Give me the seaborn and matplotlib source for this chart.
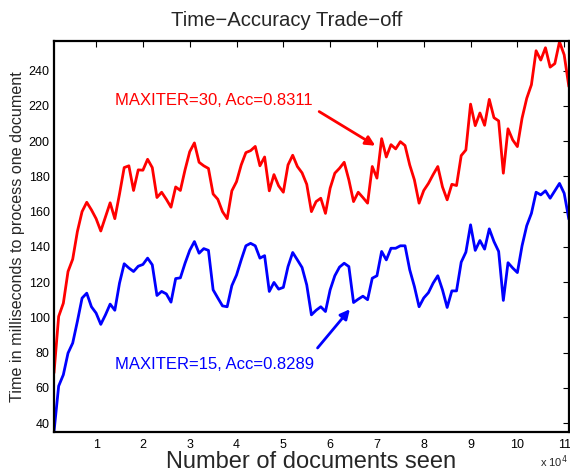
import numpy as np
import pandas as pd
import matplotlib
matplotlib.use("Agg")
import matplotlib.pyplot as plt
import seaborn as sns

# documents seen (1000 .. 111000)
docs = np.arange(1, 112) * 1000

# MAXITER=30
red = [68.4, 100.5, 108, 126, 133, 148.7, 160, 165.3, 161, 156,
       149, 157, 165, 156, 170, 185, 186, 172, 183.7, 183.5,
       189.7, 185, 168, 171, 167, 162.5, 174, 172, 183.7, 194,
       199, 188, 186, 184.5, 170, 167, 160, 156, 171.8, 177,
       186.5, 193.5, 194.6, 197, 186, 191, 171.8, 181, 174.6, 171,
       186.5, 192, 185.6, 182, 175.5, 160, 165.7, 167.6, 159, 173.3,
       181.8, 184.6, 188, 178, 165.7, 171, 168, 164.8, 185.6, 179,
       201.4, 191, 198, 195.6, 199.7, 197.5, 186.5, 178, 164.8, 172,
       176, 181, 185.6, 174, 166.7, 175.5, 174.8, 191.8, 195, 221,
       208.8, 216, 209, 223.7, 213.3, 211.5, 181.8, 207, 200.7, 196.9,
       213, 224.3, 232, 251.3, 246, 253, 242, 244, 256.4, 249,
       231]

# MAXITER=15
blue = [35, 61, 67.4, 79.7, 85.4, 97.7, 110.9, 113.7, 106, 102.4,
        96, 101.4, 107.5, 104, 119.4, 130.4, 128, 126, 129, 130,
        133.6, 129.8, 112.4, 114.7, 113.3, 108.6, 122, 122.4, 130.7, 138,
        143, 136.4, 139, 138, 115.6, 111, 106.5, 106, 118, 124,
        132.6, 140.6, 142, 140.6, 133.6, 135, 114.7, 119.8, 116, 117,
        128.8, 136.8, 132.6, 128.3, 118.4, 101.4, 104, 106, 103.3, 115.6,
        123.6, 128.5, 130.7, 128.8, 108.4, 110.3, 112, 110, 122.2, 123.6,
        137.4, 132.6, 139.2, 139.2, 140.6, 140.6, 127, 117.5, 106, 111,
        114, 119.4, 123.6, 115.6, 105.6, 115, 115, 131.3, 137, 152.5,
        138, 143.6, 138.7, 150.2, 143, 137.4, 109.6, 131, 128, 125.4,
        140.6, 152, 159, 171, 169.5, 171.8, 167.6, 171.8, 176, 170.4,
        155.7]

yticks = [40, 60, 80, 100, 120, 140, 160, 180, 200, 220, 240]
xticks = [10000, 20000, 30000, 40000, 50000, 60000, 70000, 80000, 90000, 100000, 110000]
xticklabels = ["1", "2", "3", "4", "5", "6", "7", "8", "9", "10", "11"]

df = pd.DataFrame({"docs": docs, "red": red, "blue": blue})

sns.set_style("white")
plt.rcParams["font.family"] = ["Liberation Sans", "DejaVu Sans"]
plt.rcParams["xtick.direction"] = "in"
plt.rcParams["ytick.direction"] = "in"

fig = plt.figure(figsize=(5.7, 4.72), dpi=100)
ax = fig.add_axes([0.0947, 0.0847, 0.9033, 0.8283])

sns.lineplot(data=df, x="docs", y="red", color="#ff0000", linewidth=2, ax=ax)
sns.lineplot(data=df, x="docs", y="blue", color="#0000ff", linewidth=2, ax=ax)

ax.set_xlim(1000, 111000)
ax.set_ylim(34.9, 256.8)
ax.set_xticks(xticks)
ax.set_xticklabels(xticklabels)
ax.set_yticks(yticks)
ax.tick_params(axis="both", labelsize=9, length=4, width=0.8, colors="black",
               top=True, right=True)
ax.tick_params(axis="x", pad=5)
ax.tick_params(axis="y", pad=3)
for s in ax.spines.values():
    s.set_color("black")
    s.set_linewidth(1.6)

ax.set_title("Time\u2212Accuracy Trade\u2212off", fontsize=14.6, pad=11, x=0.451)
ax.set_xlabel("")
fig.text(0.546, 0.0085, "Number of documents seen", fontsize=17, ha="center", va="baseline")
ax.set_ylabel("Time in milliseconds to process one document", fontsize=11.6, labelpad=3)

ax.text(14000, 223.3, "MAXITER=30, Acc=0.8311", color="#ff0000", fontsize=12, va="center")
ax.annotate("", xy=(70150, 196.6), xytext=(57150, 217.6),
            arrowprops=dict(arrowstyle="-|>", color="#ff0000", lw=2, mutation_scale=14))
ax.text(14000, 73.3, "MAXITER=15, Acc=0.8289", color="#0000ff", fontsize=12, va="center")
ax.annotate("", xy=(64600, 105.8), xytext=(56930, 81.4),
            arrowprops=dict(arrowstyle="-|>", color="#0000ff", lw=2, mutation_scale=14))

fig.text(0.948, 0.012, r"x 10$^4$", fontsize=8)

fig.savefig("out.png", dpi=100)
